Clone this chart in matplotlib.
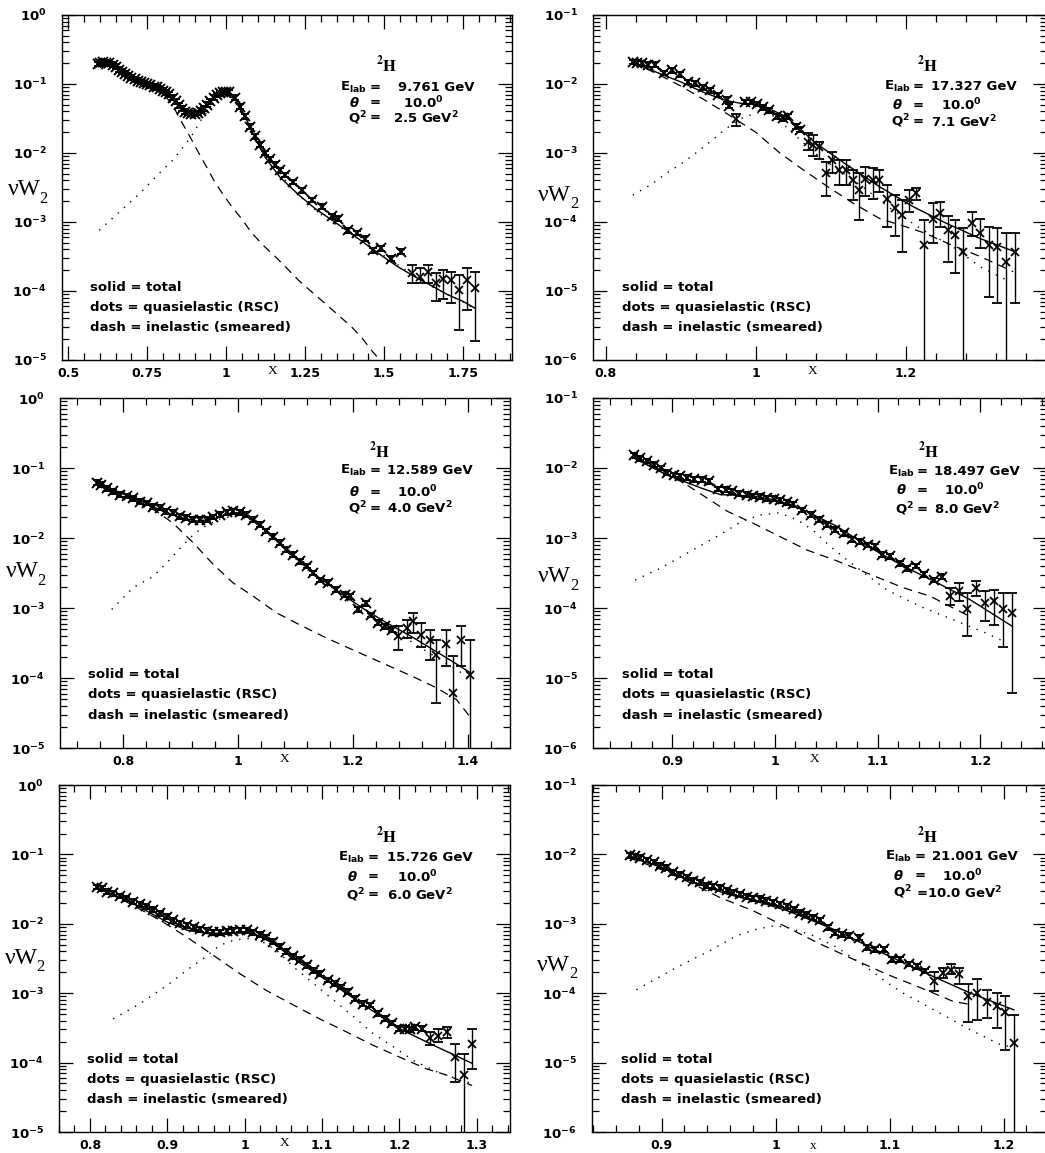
import numpy as np
import matplotlib
matplotlib.use("Agg")
import matplotlib.pyplot as plt
from matplotlib.ticker import MultipleLocator, LogLocator, FuncFormatter, NullFormatter

plt.rcParams['font.family'] = ['DejaVu Sans']
plt.rcParams['font.weight'] = 'bold'
plt.rcParams['mathtext.fontset'] = 'dejavusans'
plt.rcParams['mathtext.default'] = 'bf'

# ---------------- data (log10 of nu*W2) ----------------
# E = 9.761 GeV, Q2 = 2.5
p1_x = [0.594, 0.60, 0.61, 0.62, 0.63, 0.64, 0.65, 0.66, 0.67, 0.68,
        0.69, 0.70, 0.71, 0.72, 0.73, 0.74, 0.75, 0.76, 0.77, 0.78,
        0.79, 0.80, 0.81, 0.82, 0.83, 0.84, 0.85, 0.86, 0.87, 0.88,
        0.89, 0.90, 0.91, 0.92, 0.93, 0.94, 0.95, 0.96, 0.97, 0.98,
        0.99, 1.00, 1.01, 1.028, 1.045, 1.06, 1.076, 1.092, 1.108, 1.123,
        1.139, 1.155, 1.17, 1.186, 1.213, 1.239, 1.271, 1.302, 1.334, 1.355,
        1.386, 1.413, 1.439, 1.465, 1.49, 1.523, 1.555]
p1_lg = [-0.71, -0.69, -0.68, -0.69, -0.70, -0.72, -0.75, -0.79, -0.82, -0.85,
         -0.88, -0.91, -0.93, -0.95, -0.97, -0.99, -1.00, -1.02, -1.04, -1.05,
         -1.07, -1.10, -1.12, -1.15, -1.20, -1.25, -1.31, -1.36, -1.40, -1.42,
         -1.43, -1.43, -1.42, -1.39, -1.35, -1.30, -1.25, -1.20, -1.16, -1.13,
         -1.11, -1.11, -1.12, -1.20, -1.33, -1.47, -1.62, -1.76, -1.88, -2.00,
         -2.09, -2.17, -2.25, -2.32, -2.42, -2.54, -2.68, -2.78, -2.92, -2.95,
         -3.12, -3.16, -3.24, -3.41, -3.38, -3.53, -3.43]
p1_tx = [1.588, 1.613, 1.638, 1.663, 1.688, 1.713, 1.738, 1.763, 1.788]
p1_tlg = [-3.74, -3.79, -3.72, -3.89, -3.82, -3.84, -3.99, -3.84, -3.96]
p1_tlo = [-3.89, -3.89, -3.89, -4.15, -4.11, -4.18, -4.57, -4.28, -4.73]
p1_thi = [-3.62, -3.67, -3.62, -3.74, -3.70, -3.72, -3.77, -3.67, -3.72]
p1_tot_x = [0.594, 0.62, 0.65, 0.70, 0.75, 0.80, 0.84, 0.87, 0.90, 0.93,
            0.96, 0.997, 1.03, 1.06, 1.09, 1.123, 1.17, 1.228, 1.28, 1.334,
            1.39, 1.439, 1.49, 1.544, 1.60, 1.649, 1.70, 1.75, 1.788]
p1_tot = [-0.71, -0.69, -0.75, -0.91, -1.01, -1.11, -1.27, -1.40, -1.44, -1.36,
          -1.21, -1.135, -1.23, -1.47, -1.77, -2.06, -2.35, -2.60, -2.80, -2.97,
          -3.15, -3.31, -3.48, -3.65, -3.80, -3.92, -4.05, -4.15, -4.25]
p1_qe_x = [0.598, 0.658, 0.721, 0.789, 0.832, 0.889, 0.921, 0.958, 1.0, 1.03,
           1.06, 1.10, 1.15, 1.20, 1.25, 1.30, 1.35, 1.40, 1.45, 1.50,
           1.55, 1.60, 1.65, 1.70, 1.75, 1.788]
p1_qe = [-3.12, -2.87, -2.61, -2.29, -2.10, -1.76, -1.52, -1.28, -1.15, -1.26,
         -1.49, -1.82, -2.18, -2.47, -2.70, -2.89, -3.04, -3.19, -3.34, -3.49,
         -3.64, -3.79, -3.93, -4.05, -4.16, -4.26]
p1_in_x = [0.594, 0.65, 0.70, 0.75, 0.80, 0.83, 0.849, 0.88, 0.913, 0.94,
           0.965, 0.99, 1.018, 1.05, 1.081, 1.12, 1.155, 1.19, 1.228, 1.27,
           1.313, 1.355, 1.397, 1.43, 1.46, 1.481, 1.50]
p1_in = [-0.72, -0.77, -0.93, -1.03, -1.14, -1.30, -1.47, -1.72, -2.00, -2.22,
         -2.43, -2.60, -2.78, -2.96, -3.16, -3.35, -3.50, -3.66, -3.84, -4.01,
         -4.18, -4.35, -4.52, -4.68, -4.86, -4.97, -5.10]

# E = 17.327 GeV, Q2 = 7.1
p2_x = [0.836, 0.842, 0.848, 0.856, 0.865, 0.877, 0.888, 0.899, 0.910, 0.919,
        0.929, 0.939, 0.950, 0.961, 0.964, 0.985, 0.994, 1.002, 1.01, 1.018,
        1.028, 1.036, 1.043, 1.054, 1.059]
p2_lg = [-1.68, -1.69, -1.70, -1.72, -1.72, -1.84, -1.80, -1.86, -1.97, -1.99,
         -2.05, -2.09, -2.16, -2.23, -2.32, -2.26, -2.26, -2.29, -2.34, -2.38,
         -2.47, -2.50, -2.47, -2.62, -2.66]
p2_tx = [0.974, 1.070, 1.076, 1.084, 1.094, 1.102, 1.111, 1.12, 1.129, 1.137,
         1.146, 1.156, 1.164, 1.175, 1.185, 1.195, 1.204, 1.214, 1.224, 1.236,
         1.245, 1.256, 1.266, 1.276, 1.288, 1.299, 1.311, 1.321, 1.334, 1.345]
p2_tlg = [-2.51, -2.84, -2.88, -2.91, -3.29, -3.10, -3.25, -3.25, -3.39, -3.54,
          -3.37, -3.39, -3.39, -3.66, -3.80, -3.90, -3.68, -3.58, -4.33, -3.95,
          -3.87, -4.12, -4.19, -4.43, -4.02, -4.16, -4.33, -4.36, -4.58, -4.44]
# -9 : error bar reaches zero (runs off the bottom of the frame)
p2_tlo = [-2.61, -2.96, -3.05, -3.08, -3.63, -3.29, -3.46, -3.46, -3.68, -3.97,
          -3.63, -3.66, -3.56, -4.07, -4.21, -4.43, -3.85, -3.68, -9, -4.31,
          -4.07, -4.58, -4.74, -9, -4.21, -4.38, -5.08, -5.18, -9, -5.18]
p2_thi = [-2.43, -2.71, -2.74, -2.84, -3.13, -2.98, -3.10, -3.10, -3.25, -3.29,
          -3.20, -3.22, -3.25, -3.46, -3.61, -3.68, -3.54, -3.51, -3.97, -3.73,
          -3.71, -3.92, -3.97, -4.09, -3.85, -3.95, -4.07, -4.09, -4.16, -4.16]
p2_tot_x = [0.836, 0.87, 0.90, 0.93, 0.96, 0.98, 1.00, 1.02, 1.04, 1.06,
            1.08, 1.10, 1.121, 1.165, 1.21, 1.254, 1.299, 1.345]
p2_tot = [-1.69, -1.84, -1.97, -2.12, -2.24, -2.28, -2.30, -2.37, -2.47, -2.66,
          -2.86, -3.01, -3.17, -3.49, -3.78, -4.02, -4.24, -4.43]
p2_qe_x = [0.836, 0.86, 0.88, 0.90, 0.92, 0.94, 0.96, 0.98, 1.00, 1.015,
           1.03, 1.05, 1.076, 1.10, 1.14, 1.179, 1.223, 1.263, 1.299, 1.334]
p2_qe = [-3.61, -3.46, -3.30, -3.16, -3.00, -2.83, -2.65, -2.50, -2.42, -2.40,
         -2.52, -2.72, -2.98, -3.17, -3.47, -3.80, -4.12, -4.36, -4.65, -4.84]
p2_in_x = [0.836, 0.87, 0.90, 0.93, 0.96, 0.98, 1.00, 1.032, 1.06, 1.096,
           1.13, 1.165, 1.20, 1.225, 1.26, 1.299, 1.343]
p2_in = [-1.69, -1.86, -2.03, -2.22, -2.42, -2.56, -2.70, -3.00, -3.22, -3.49,
         -3.73, -3.95, -4.07, -4.16, -4.33, -4.50, -4.72]

# E = 12.589 GeV, Q2 = 4.0
p3_x = [0.754, 0.762, 0.771, 0.783, 0.794, 0.806, 0.817, 0.829, 0.841, 0.852,
        0.864, 0.875, 0.887, 0.899, 0.910, 0.922, 0.933, 0.945, 0.957, 0.968,
        0.980, 0.991, 1.003, 1.014, 1.026, 1.038, 1.049, 1.061, 1.072, 1.084,
        1.096, 1.107, 1.119, 1.130, 1.142, 1.157, 1.171, 1.186, 1.194, 1.209,
        1.223, 1.232, 1.243, 1.255, 1.267]
p3_lg = [-1.21, -1.24, -1.29, -1.33, -1.38, -1.40, -1.43, -1.48, -1.50, -1.55,
         -1.57, -1.62, -1.64, -1.69, -1.71, -1.74, -1.74, -1.74, -1.70, -1.67,
         -1.63, -1.62, -1.63, -1.67, -1.74, -1.81, -1.90, -1.98, -2.07, -2.17,
         -2.24, -2.33, -2.40, -2.50, -2.60, -2.64, -2.74, -2.81, -2.83, -3.02,
         -2.93, -3.10, -3.21, -3.26, -3.31]
p3_tx = [1.278, 1.293, 1.304, 1.319, 1.333, 1.345, 1.361, 1.374, 1.388, 1.403]
p3_tlg = [-3.40, -3.29, -3.19, -3.38, -3.45, -3.67, -3.52, -4.21, -3.45, -3.95]
p3_tlo = [-3.60, -3.43, -3.36, -3.55, -3.74, -4.36, -3.83, -9, -3.83, -9]
p3_thi = [-3.26, -3.17, -3.07, -3.21, -3.31, -3.45, -3.31, -3.69, -3.26, -3.45]
p3_tot_x = [0.754, 0.80, 0.83, 0.87, 0.90, 0.93, 0.96, 0.99, 1.005, 1.03,
            1.06, 1.10, 1.14, 1.18, 1.22, 1.26, 1.30, 1.34, 1.38, 1.403]
p3_tot = [-1.21, -1.37, -1.47, -1.62, -1.71, -1.76, -1.72, -1.64, -1.64, -1.76,
          -1.97, -2.28, -2.56, -2.80, -3.02, -3.22, -3.40, -3.60, -3.80, -3.92]
p3_qe_x = [0.780, 0.817, 0.852, 0.881, 0.904, 0.925, 0.945, 0.97, 1.00, 1.04,
           1.08, 1.12, 1.16, 1.20, 1.24, 1.28, 1.32, 1.36, 1.403]
p3_qe = [-3.02, -2.71, -2.55, -2.31, -2.10, -1.93, -1.82, -1.72, -1.68, -1.84,
         -2.14, -2.45, -2.72, -2.95, -3.17, -3.37, -3.58, -3.78, -4.00]
p3_in_x = [0.754, 0.80, 0.84, 0.858, 0.887, 0.922, 0.957, 0.991, 1.026, 1.067,
           1.107, 1.154, 1.20, 1.252, 1.304, 1.345, 1.38, 1.403]
p3_in = [-1.22, -1.40, -1.54, -1.62, -1.79, -2.07, -2.38, -2.64, -2.83, -3.07,
         -3.24, -3.43, -3.60, -3.79, -3.98, -4.14, -4.31, -4.55]

# E = 18.497 GeV, Q2 = 8.0
p4_x = [0.863, 0.869, 0.876, 0.882, 0.889, 0.895, 0.902, 0.908, 0.915, 0.921,
        0.929, 0.936, 0.945, 0.952, 0.958, 0.965, 0.973, 0.979, 0.986, 0.992,
        0.999, 1.005, 1.012, 1.018, 1.026, 1.035, 1.043, 1.051, 1.059, 1.067,
        1.075, 1.083, 1.091, 1.098, 1.104, 1.112, 1.122, 1.129, 1.137, 1.145,
        1.155, 1.163]
p4_lg = [-1.82, -1.86, -1.90, -1.95, -2.00, -2.07, -2.10, -2.12, -2.14, -2.16,
         -2.17, -2.19, -2.30, -2.31, -2.33, -2.37, -2.38, -2.40, -2.41, -2.43,
         -2.44, -2.46, -2.49, -2.52, -2.60, -2.67, -2.74, -2.81, -2.88, -2.93,
         -3.02, -3.05, -3.10, -3.12, -3.24, -3.26, -3.36, -3.43, -3.40, -3.52,
         -3.60, -3.55]
p4_tx = [1.171, 1.179, 1.187, 1.196, 1.205, 1.213, 1.222, 1.231]
p4_tlg = [-3.83, -3.76, -4.02, -3.71, -3.93, -3.90, -4.02, -4.07]
p4_tlo = [-3.95, -3.90, -4.40, -3.83, -4.19, -4.24, -4.55, -5.21]
p4_thi = [-3.71, -3.64, -3.79, -3.62, -3.76, -3.74, -3.79, -3.79]
p4_tot_x = [0.863, 0.895, 0.929, 0.947, 0.979, 1.002, 1.028, 1.06, 1.093, 1.125,
            1.158, 1.19, 1.231]
p4_tot = [-1.86, -2.10, -2.29, -2.38, -2.40, -2.46, -2.60, -2.83, -3.14, -3.40,
          -3.64, -3.88, -4.26]
p4_qe_x = [0.864, 0.889, 0.918, 0.947, 0.968, 0.986, 1.004, 1.022, 1.038, 1.054,
           1.07, 1.087, 1.109, 1.142, 1.174, 1.206, 1.226]
p4_qe = [-3.60, -3.43, -3.19, -2.95, -2.76, -2.67, -2.64, -2.74, -2.90, -3.12,
         -3.31, -3.50, -3.74, -3.98, -4.17, -4.36, -4.50]
p4_in_x = [0.863, 0.89, 0.911, 0.931, 0.954, 0.979, 1.005, 1.031, 1.061, 1.093,
           1.125, 1.151, 1.187]
p4_in = [-1.86, -2.06, -2.21, -2.40, -2.62, -2.79, -2.98, -3.17, -3.33, -3.52,
         -3.71, -3.83, -4.10]

# E = 15.726 GeV, Q2 = 6.0
p5_x = [0.809, 0.815, 0.822, 0.830, 0.839, 0.847, 0.856, 0.865, 0.873, 0.882,
        0.891, 0.899, 0.908, 0.916, 0.925, 0.934, 0.942, 0.951, 0.959, 0.968,
        0.977, 0.985, 0.994, 1.003, 1.011, 1.020, 1.028, 1.037, 1.046, 1.054,
        1.063, 1.072, 1.080, 1.089, 1.097, 1.108, 1.117, 1.125, 1.134, 1.143,
        1.153, 1.162, 1.173, 1.181, 1.190, 1.199, 1.207, 1.214, 1.220, 1.229]
p5_lg = [-1.47, -1.49, -1.54, -1.56, -1.60, -1.63, -1.68, -1.72, -1.75, -1.80,
         -1.85, -1.90, -1.95, -1.99, -2.02, -2.05, -2.08, -2.10, -2.12, -2.12,
         -2.11, -2.10, -2.09, -2.09, -2.12, -2.16, -2.19, -2.26, -2.33, -2.40,
         -2.47, -2.52, -2.60, -2.67, -2.72, -2.81, -2.86, -2.91, -2.98, -3.08,
         -3.15, -3.17, -3.29, -3.37, -3.43, -3.51, -3.51, -3.52, -3.49, -3.51]
p5_tx = [1.240, 1.250, 1.261, 1.272, 1.283, 1.294]
p5_tlg = [-3.65, -3.61, -3.56, -3.92, -4.18, -3.73]
p5_tlo = [-3.75, -3.70, -3.65, -4.28, -9, -4.09]
p5_thi = [-3.56, -3.51, -3.49, -3.73, -3.87, -3.51]
p5_tot_x = [0.809, 0.856, 0.899, 0.925, 0.951, 0.985, 1.011, 1.037, 1.072, 1.115,
            1.158, 1.20, 1.244, 1.294]
p5_tot = [-1.47, -1.71, -1.97, -2.09, -2.14, -2.13, -2.14, -2.28, -2.57, -2.88,
          -3.20, -3.51, -3.75, -4.01]
p5_qe_x = [0.830, 0.865, 0.903, 0.925, 0.949, 0.968, 0.985, 1.003, 1.02, 1.041,
           1.063, 1.089, 1.115, 1.141, 1.166, 1.192, 1.218, 1.248, 1.278, 1.294]
p5_qe = [-3.37, -3.15, -2.86, -2.67, -2.48, -2.31, -2.24, -2.21, -2.24, -2.38,
         -2.62, -2.86, -3.10, -3.34, -3.58, -3.77, -3.97, -4.13, -4.25, -4.30]
p5_in_x = [0.809, 0.85, 0.891, 0.925, 0.959, 0.994, 1.028, 1.063, 1.097, 1.132,
           1.166, 1.20, 1.235, 1.261, 1.294]
p5_in = [-1.48, -1.70, -1.95, -2.19, -2.45, -2.72, -2.96, -3.17, -3.37, -3.56,
         -3.75, -3.92, -4.09, -4.18, -4.33]

# E = 21.001 GeV, Q2 = 10.0
p6_x = [0.872, 0.877, 0.881, 0.887, 0.893, 0.899, 0.904, 0.910, 0.916, 0.922,
        0.928, 0.934, 0.940, 0.945, 0.951, 0.957, 0.963, 0.969, 0.975, 0.980,
        0.986, 0.992, 0.998, 1.004, 1.010, 1.016, 1.021, 1.027, 1.033, 1.039,
        1.046, 1.052, 1.058, 1.064, 1.073, 1.080, 1.087, 1.095, 1.102, 1.109,
        1.117, 1.124, 1.131]
p6_lg = [-2.01, -2.03, -2.05, -2.08, -2.11, -2.16, -2.19, -2.26, -2.29, -2.33,
         -2.38, -2.40, -2.45, -2.46, -2.48, -2.52, -2.55, -2.57, -2.61, -2.63,
         -2.64, -2.67, -2.69, -2.72, -2.75, -2.79, -2.84, -2.87, -2.91, -2.95,
         -3.05, -3.13, -3.15, -3.17, -3.20, -3.34, -3.37, -3.37, -3.51, -3.51,
         -3.58, -3.61, -3.68]
p6_tx = [1.139, 1.147, 1.154, 1.161, 1.169, 1.177, 1.185, 1.194, 1.201, 1.209]
p6_tlg = [-3.83, -3.71, -3.66, -3.73, -4.04, -4.00, -4.12, -4.19, -4.27, -4.72]
p6_tlo = [-3.97, -3.78, -3.73, -3.87, -4.41, -4.38, -4.36, -4.50, -4.82, -9]
p6_thi = [-3.69, -3.63, -3.58, -3.63, -3.87, -3.80, -3.95, -3.99, -4.04, -4.31]
p6_tot_x = [0.872, 0.899, 0.928, 0.957, 0.986, 1.01, 1.033, 1.054, 1.083, 1.112,
            1.141, 1.171, 1.209]
p6_tot = [-2.04, -2.18, -2.40, -2.57, -2.69, -2.81, -2.96, -3.10, -3.34, -3.56,
          -3.78, -4.00, -4.24]
p6_qe_x = [0.878, 0.913, 0.942, 0.966, 0.983, 0.998, 1.01, 1.033, 1.054, 1.08,
           1.098, 1.112, 1.141, 1.171, 1.197, 1.206]
p6_qe = [-3.95, -3.63, -3.39, -3.17, -3.08, -3.03, -3.05, -3.17, -3.34, -3.63,
         -3.85, -4.00, -4.26, -4.53, -4.74, -4.77]
p6_in_x = [0.872, 0.90, 0.928, 0.951, 0.98, 1.01, 1.039, 1.068, 1.098, 1.127,
           1.156, 1.17]
p6_in = [-2.05, -2.22, -2.43, -2.62, -2.81, -3.05, -3.29, -3.51, -3.73, -3.92,
         -4.12, -4.16]

dense_err = 0.035   # small stat. error of the densely sampled points (decades)

e_lab = ['9.761', '17.327', '12.589', '18.497', '15.726', '21.001']
q2 = ['2.5', '7.1', '4.0', '8.0', '6.0', '10.0']
theta = '10.0'

# ---------------- layout ----------------
W, H = 1045, 1153
fig = plt.figure(figsize=(W / 100, H / 100), dpi=100)

boxes = [(62, 15, 512, 360), (593, 15, 1047, 360),
         (60, 398, 510, 748), (593, 398, 1047, 748),
         (59, 785, 510, 1132), (592, 785, 1047, 1132)]
xlims = [(0.48, 1.905), (0.783, 1.388), (0.69, 1.473),
         (0.823, 1.265), (0.76, 1.343), (0.839, 1.238)]
ylims = [(1e-5, 1), (1e-6, 1e-1)] * 3
xmajor = [0.25, 0.2, 0.2, 0.1, 0.1, 0.1]
xminor = [0.05, 0.04, 0.04, 0.02, 0.02, 0.02]
xlab_pos = [1.147, 1.076, 1.081, 1.039, 1.052, 1.033]
# text anchors (axes fraction): H centre, '=' column, value column
hdr = [(0.722, 0.696, 0.735), (0.738, 0.717, 0.745),
       (0.711, 0.700, 0.726), (0.739, 0.726, 0.752),
       (0.727, 0.697, 0.727), (0.739, 0.721, 0.747)]
hdr_y = [(0.855, 0.791, 0.745, 0.702), (0.855, 0.794, 0.739, 0.691),
         (0.848, 0.792, 0.731, 0.685), (0.849, 0.790, 0.737, 0.682),
         (0.851, 0.792, 0.736, 0.683), (0.851, 0.795, 0.738, 0.690)]
ylab_y = [0.493, 0.478, 0.504, 0.489, 0.501, 0.481]

panels = [
    (p1_x, p1_lg, p1_tx, p1_tlg, p1_tlo, p1_thi, p1_tot_x, p1_tot, p1_qe_x, p1_qe, p1_in_x, p1_in),
    (p2_x, p2_lg, p2_tx, p2_tlg, p2_tlo, p2_thi, p2_tot_x, p2_tot, p2_qe_x, p2_qe, p2_in_x, p2_in),
    (p3_x, p3_lg, p3_tx, p3_tlg, p3_tlo, p3_thi, p3_tot_x, p3_tot, p3_qe_x, p3_qe, p3_in_x, p3_in),
    (p4_x, p4_lg, p4_tx, p4_tlg, p4_tlo, p4_thi, p4_tot_x, p4_tot, p4_qe_x, p4_qe, p4_in_x, p4_in),
    (p5_x, p5_lg, p5_tx, p5_tlg, p5_tlo, p5_thi, p5_tot_x, p5_tot, p5_qe_x, p5_qe, p5_in_x, p5_in),
    (p6_x, p6_lg, p6_tx, p6_tlg, p6_tlo, p6_thi, p6_tot_x, p6_tot, p6_qe_x, p6_qe, p6_in_x, p6_in),
]


def ylabel_fmt(v, pos):
    return r'$10^{%d}$' % int(round(np.log10(v)))


for i, pan in enumerate(panels):
    dx, dlg, tx, tlg, tlo, thi, cx, ctot, qx, cqe, ix, cin = pan
    l, t, r, b = boxes[i]
    ax = fig.add_axes([l / W, 1 - b / H, (r - l) / W, (b - t) / H])
    ax.set_yscale('log')

    # curves
    ax.plot(cx, 10 ** np.array(ctot), color='k', lw=1.0, zorder=3)
    ax.plot(qx, 10 ** np.array(cqe), color='k', lw=1.0, ls=(0, (1, 5)), zorder=3)
    ax.plot(ix, 10 ** np.array(cin), color='k', lw=0.9, ls=(0, (7, 5)), zorder=3)

    # dense data
    dlg = np.array(dlg)
    y = 10 ** dlg
    ax.errorbar(dx, y, yerr=[y - 10 ** (dlg - dense_err), 10 ** (dlg + dense_err) - y],
                fmt='x', color='k', ms=6.5, mew=1.4, elinewidth=1.0, capsize=3,
                capthick=1.2, zorder=4)
    # sparse data with visible errors
    tlg = np.array(tlg)
    ty = 10 ** tlg
    ax.errorbar(tx, ty, yerr=[ty - 10 ** np.array(tlo), 10 ** np.array(thi) - ty],
                fmt='x', color='k', ms=6, mew=1.3, elinewidth=1.0, capsize=3.5,
                capthick=1.1, zorder=4)

    ax.set_xlim(*xlims[i])
    ax.set_ylim(*ylims[i])

    ax.xaxis.set_major_locator(MultipleLocator(xmajor[i]))
    ax.xaxis.set_minor_locator(MultipleLocator(xminor[i]))
    ax.xaxis.set_major_formatter(FuncFormatter(lambda v, p: '%g' % round(v, 3)))
    ax.yaxis.set_major_locator(LogLocator(base=10, numticks=10))
    ax.yaxis.set_minor_locator(LogLocator(base=10, subs=np.arange(2, 10), numticks=20))
    ax.yaxis.set_major_formatter(FuncFormatter(ylabel_fmt))
    ax.yaxis.set_minor_formatter(NullFormatter())
    ax.tick_params(which='both', direction='in', top=True, right=True, width=0.9)
    ax.tick_params(which='major', length=10)
    ax.tick_params(which='minor', length=5)
    ax.tick_params(axis='x', which='major', labelsize=9, pad=5)
    ax.tick_params(axis='y', which='major', labelsize=9.5, pad=11)
    for s in ax.spines.values():
        s.set_linewidth(1.0)

    # "X" axis name sitting in the tick-label row
    xname = 'x' if i == 5 else 'X'
    ax.text(xlab_pos[i], -0.022 if i == 5 else -0.014, xname,
            transform=ax.get_xaxis_transform(), ha='center', va='top',
            fontsize=9.5, family='Liberation Serif', fontweight='normal')

    # y-axis name: nu W_2 (plain serif)
    yl = ax.text(-0.084, ylab_y[i], '\u03bdW', transform=ax.transAxes,
                 ha='center', va='center', fontsize=17,
                 family='Liberation Serif', fontweight='normal')
    ax.annotate('2', xy=(1.0, 0.0), xycoords=yl, xytext=(-1.0, 1.0),
                textcoords='offset points', ha='left', va='center',
                fontsize=12, family='Liberation Serif', fontweight='normal')

    # header block
    hx, eqx, vx = hdr[i]
    y_h, y_e, y_t, y_q = hdr_y[i]
    ax.text(hx, y_h, r'$^{2}\mathrm{H}$', transform=ax.transAxes, ha='center',
            va='center', fontsize=12, math_fontfamily='stix')
    ax.text(eqx - 0.018, y_e, r'$E_{lab}$', transform=ax.transAxes, ha='right',
            va='center', fontsize=9.5)
    ax.text(eqx - 0.035, y_t, r'$\mathit{\theta}$', transform=ax.transAxes, ha='right',
            va='center', fontsize=9.5)
    ax.text(eqx - 0.018, y_q, r'Q$^{2}$', transform=ax.transAxes, ha='right',
            va='center', fontsize=9.5)
    for yy in (y_e, y_t):
        ax.text(eqx, yy, '=', transform=ax.transAxes, ha='center', va='center',
                fontsize=9.5)
    if i == 5:
        ax.text(eqx - 0.01, y_q, '=' + q2[i] + r' GeV$^{2}$', transform=ax.transAxes,
                ha='left', va='center', fontsize=9.5)
    else:
        ax.text(eqx, y_q, '=', transform=ax.transAxes, ha='center', va='center',
                fontsize=9.5)
        ax.text(vx, y_q, q2[i] + r' GeV$^{2}$', transform=ax.transAxes,
                ha='left', va='center', fontsize=9.5)
    ax.text(vx + (0.012 if len(e_lab[i]) == 5 else 0.0), y_e, e_lab[i] + ' GeV',
            transform=ax.transAxes, ha='left', va='center', fontsize=9.5)
    ax.text(vx + 0.022, y_t, theta + r'$^{0}$', transform=ax.transAxes,
            ha='left', va='center', fontsize=9.5)

    # key
    for k, s in enumerate(['solid = total', 'dots = quasielastic (RSC)',
                           'dash = inelastic (smeared)']):
        ax.text(0.063, 0.21 - 0.058 * k, s, transform=ax.transAxes, ha='left',
                va='center', fontsize=9.5)

fig.savefig('out.png', dpi=100)
